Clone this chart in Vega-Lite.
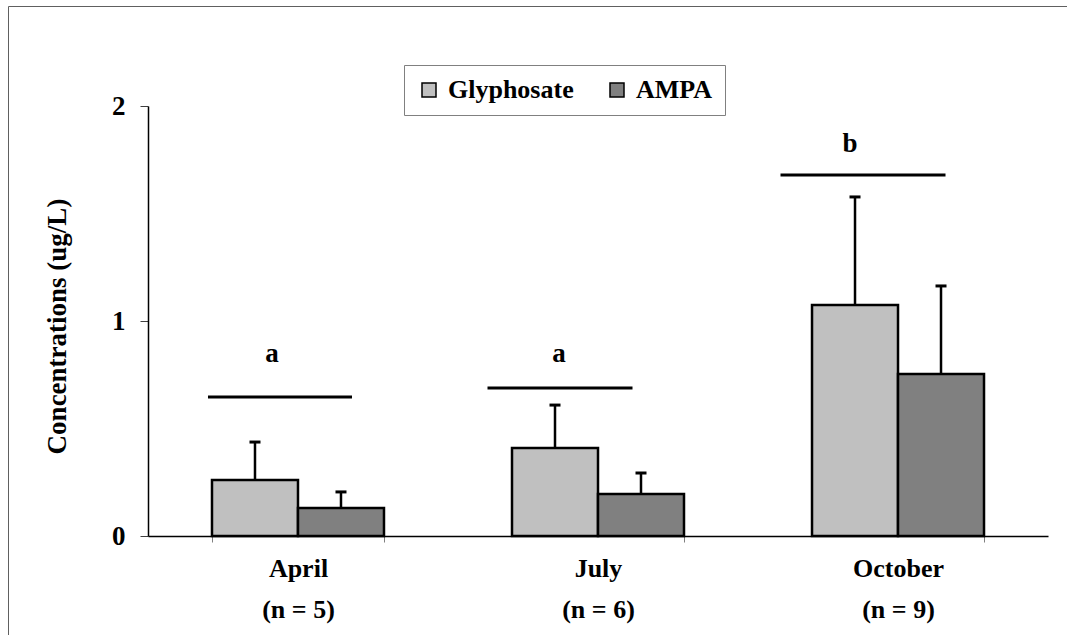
{
  "$schema": "https://vega.github.io/schema/vega-lite/v6.json",
  "autosize": {"type": "none"},
  "padding": {"left": 8, "top": 6, "right": 0, "bottom": 0},
  "width": 1059,
  "height": 629,
  "background": "white",
  "config": {
    "font": "Times New Roman",
    "view": {"stroke": "#606060", "strokeWidth": 1},
    "axis": {"labelFont": "Times New Roman", "titleFont": "Times New Roman"},
    "legend": {"labelFont": "Times New Roman", "titleFont": "Times New Roman"},
    "text": {"font": "Times New Roman"}
  },
  "datasets": {
    "bars": [
      {"month": "April", "series": "Glyphosate", "value": 0.26, "upper": 0.437},
      {"month": "April", "series": "AMPA", "value": 0.13, "upper": 0.205},
      {"month": "July", "series": "Glyphosate", "value": 0.409, "upper": 0.609},
      {"month": "July", "series": "AMPA", "value": 0.195, "upper": 0.293},
      {"month": "October", "series": "Glyphosate", "value": 1.074, "upper": 1.577},
      {"month": "October", "series": "AMPA", "value": 0.753, "upper": 1.163}
    ],
    "sig": [
      {"month": "April", "letter": "a", "lineY": 0.647, "letterY": 0.809},
      {"month": "July", "letter": "a", "lineY": 0.688, "letterY": 0.809},
      {"month": "October", "letter": "b", "lineY": 1.679, "letterY": 1.786}
    ]
  },
  "layer": [
    {
      "data": {"name": "bars"},
      "mark": {"type": "bar", "stroke": "black", "strokeWidth": 2.5},
      "encoding": {
        "x": {
          "field": "month", "type": "nominal", "sort": ["April", "July", "October"],
          "scale": {"range": [140, 1040], "paddingInner": 0.4267, "paddingOuter": 0.2133},
          "axis": {
            "title": null,
            "labelAngle": 0,
            "labelExpr": "datum.value == 'April' ? ['April', '\u00a0\u00a0(n = 5)'] : datum.value == 'July' ? ['July', '\u00a0\u00a0(n = 6)'] : datum.value == 'October' ? ['October', '\u00a0\u00a0(n = 9)'] : ''",
            "labelFontSize": 26,
            "labelFontWeight": "bold",
            "labelColor": "black",
            "labelBaseline": "top",
            "labelLineHeight": 41,
            "labelPadding": 13,
            "tickBand": "extent",
            "tickSize": 6,
            "tickColor": "#808080",
            "domainColor": "black",
            "domainWidth": 1.5,
            "offset": -99,
            "grid": false
          }
        },
        "xOffset": {
          "field": "series", "type": "nominal", "sort": ["Glyphosate", "AMPA"],
          "scale": {"paddingInner": 0, "paddingOuter": 0}
        },
        "y": {
          "field": "value", "type": "quantitative",
          "scale": {"domain": [0, 2], "range": [530, 100], "nice": false, "zero": true},
          "axis": {
            "values": [0, 1, 2],
            "labelExpr": "'' + datum.value",
            "labelOverlap": false,
            "title": "Concentrations (ug/L)",
            "titleFontSize": 27,
            "titleFontWeight": "bold",
            "titleColor": "black",
            "titleAngle": 270,
            "titleAlign": "center",
            "titleBaseline": "middle",
            "titleX": -91,
            "titleY": 320,
            "labelFontSize": 27,
            "labelFontWeight": "bold",
            "labelColor": "black",
            "labelPadding": 15,
            "tickSize": 8,
            "tickColor": "#404040",
            "domainColor": "black",
            "domainWidth": 1.5,
            "offset": -140,
            "grid": false
          }
        },
        "color": {
          "field": "series", "type": "nominal",
          "scale": {"domain": ["Glyphosate", "AMPA"], "range": ["#C0C0C0", "#808080"]},
          "legend": {
            "title": null,
            "orient": "none",
            "legendX": 396,
            "legendY": 59,
            "direction": "horizontal",
            "symbolType": "square",
            "symbolSize": 196,
            "symbolStrokeColor": "black",
            "symbolStrokeWidth": 1.5,
            "labelFontSize": 26,
            "labelFontWeight": "bold",
            "labelColor": "black",
            "labelOffset": 6,
            "columnPadding": 30,
            "padding": 12,
            "strokeColor": "#808080",
            "fillColor": "white"
          }
        }
      }
    },
    {
      "data": {"name": "bars"},
      "mark": {"type": "rule", "color": "black", "strokeWidth": 2.5},
      "encoding": {
        "x": {"field": "month", "type": "nominal", "sort": ["April", "July", "October"]},
        "xOffset": {"field": "series", "type": "nominal", "sort": ["Glyphosate", "AMPA"]},
        "y": {"field": "value", "type": "quantitative"},
        "y2": {"field": "upper"}
      }
    },
    {
      "data": {"name": "bars"},
      "mark": {"type": "tick", "orient": "horizontal", "color": "black", "opacity": 1, "size": 11, "thickness": 3},
      "encoding": {
        "x": {"field": "month", "type": "nominal", "sort": ["April", "July", "October"]},
        "xOffset": {"field": "series", "type": "nominal", "sort": ["Glyphosate", "AMPA"]},
        "y": {"field": "upper", "type": "quantitative"}
      }
    },
    {
      "data": {"name": "sig"},
      "transform": [{"filter": "datum.month == 'April'"}],
      "layer": [
        {
          "mark": {"type": "tick", "orient": "horizontal", "color": "black", "opacity": 1, "size": 144, "thickness": 3, "xOffset": -18},
          "encoding": {
            "x": {"field": "month", "type": "nominal", "sort": ["April", "July", "October"]},
            "y": {"field": "lineY", "type": "quantitative"}
          }
        },
        {
          "mark": {"type": "text", "fontSize": 27, "fontWeight": "bold", "color": "black", "baseline": "alphabetic", "dx": -26},
          "encoding": {
            "x": {"field": "month", "type": "nominal", "sort": ["April", "July", "October"]},
            "y": {"field": "letterY", "type": "quantitative"},
            "text": {"field": "letter"}
          }
        }
      ]
    },
    {
      "data": {"name": "sig"},
      "transform": [{"filter": "datum.month == 'July'"}],
      "layer": [
        {
          "mark": {"type": "tick", "orient": "horizontal", "color": "black", "opacity": 1, "size": 145, "thickness": 3, "xOffset": -38},
          "encoding": {
            "x": {"field": "month", "type": "nominal", "sort": ["April", "July", "October"]},
            "y": {"field": "lineY", "type": "quantitative"}
          }
        },
        {
          "mark": {"type": "text", "fontSize": 27, "fontWeight": "bold", "color": "black", "baseline": "alphabetic", "dx": -39},
          "encoding": {
            "x": {"field": "month", "type": "nominal", "sort": ["April", "July", "October"]},
            "y": {"field": "letterY", "type": "quantitative"},
            "text": {"field": "letter"}
          }
        }
      ]
    },
    {
      "data": {"name": "sig"},
      "transform": [{"filter": "datum.month == 'October'"}],
      "layer": [
        {
          "mark": {"type": "tick", "orient": "horizontal", "color": "black", "opacity": 1, "size": 165, "thickness": 3, "xOffset": -35},
          "encoding": {
            "x": {"field": "month", "type": "nominal", "sort": ["April", "July", "October"]},
            "y": {"field": "lineY", "type": "quantitative"}
          }
        },
        {
          "mark": {"type": "text", "fontSize": 27, "fontWeight": "bold", "color": "black", "baseline": "alphabetic", "dx": -48},
          "encoding": {
            "x": {"field": "month", "type": "nominal", "sort": ["April", "July", "October"]},
            "y": {"field": "letterY", "type": "quantitative"},
            "text": {"field": "letter"}
          }
        }
      ]
    }
  ]
}
